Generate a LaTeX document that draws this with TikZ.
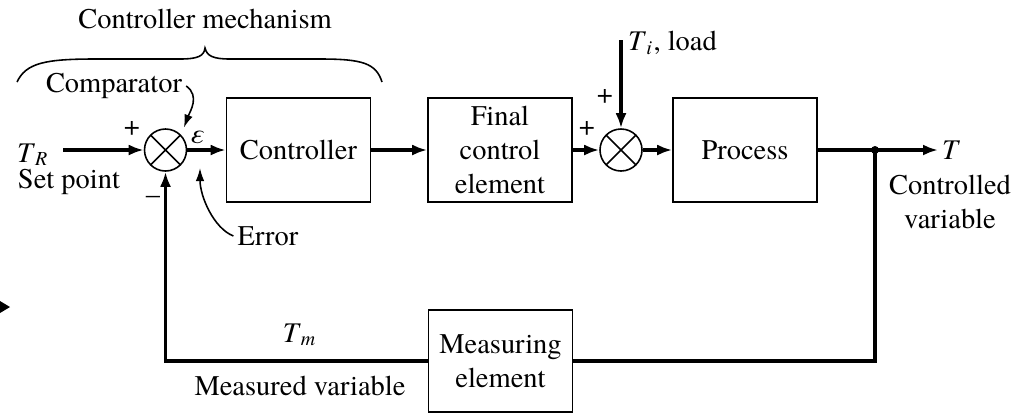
\documentclass[tikz,border=0pt]{standalone}
\usepackage{fontspec}
\setmainfont{texgyretermes}[Extension=.otf, UprightFont=*-regular, ItalicFont=*-italic, BoldFont=*-bold, BoldItalicFont=*-bolditalic]
\usetikzlibrary{arrows.meta, positioning, calc}
\newcommand{\symb}[2]{\textit{#1}\textsubscript{\textit{#2}}}

\begin{document}
\begin{tikzpicture}[
    font=\fontsize{8.1}{9.7}\selectfont,
    block/.style={draw, line width=0.45pt, minimum width=1.44cm, minimum height=1.04cm, align=center, inner sep=1pt},
    sumpt/.style={draw, circle, line width=0.45pt, minimum size=0.42cm, inner sep=0pt,
        path picture={\draw[line width=0.45pt] (path picture bounding box.north west) -- (path picture bounding box.south east)
            (path picture bounding box.north east) -- (path picture bounding box.south west);}},
    flow/.style={line width=1.1pt, -{Latex[length=1.5mm,width=1.1mm]}},
    sigline/.style={line width=1.1pt},
    pointer/.style={line width=0.45pt, -{Latex[length=1.3mm,width=0.85mm]}},
    sign/.style={inner sep=0pt},
    lbl/.style={align=center, inner sep=1pt}
]
\useasboundingbox (0,0) rectangle (10.34,-4.15);

% Blocks
\node[sumpt] (cmp) at (1.655,-1.50) {};
\node[block] (ctrl) at (2.985,-1.50) {Controller};
\node[block] (fce) at (5.00,-1.50) {Final\\control\\element};
\node[sumpt] (sum2) at (6.21,-1.50) {};
\node[block] (proc) at (7.45,-1.50) {Process};
\node[block, minimum height=1.02cm] (meas) at (5.005,-3.61) {Measuring\\element};

% Labels
\node[lbl] (ctrlmech) at (2.05,-0.19) {Controller mechanism};
\node[lbl] (cmplbl) at (1.14,-0.86) {Comparator};
\node[lbl, anchor=base] (tr) at (0.33,-1.62) {\symb{T}{R}};
\node[lbl] (setpt) at (0.69,-1.82) {Set point};
\node[sign] (plus1) at (1.32,-1.28) {+};
\node[sign] (minus1) at (1.53,-2.00) {–};
\node[lbl] (eps) at (1.97,-1.37) {\textit{ε}};
\node[lbl] (errlbl) at (2.68,-2.36) {Error};
\node[sign] (plus2) at (5.87,-1.28) {+};
\node[sign] (plus3) at (6.05,-0.96) {+};
\node[lbl, anchor=west] (load) at (6.24,-0.43) {\symb{T}{i}, load};
\node[lbl, anchor=west] (tout) at (9.38,-1.50) {\textit{T}};
\node[lbl] (ctrlvar) at (9.50,-2.02) {Controlled\\variable};
\node[lbl] (tm) at (3.00,-3.35) {\symb{T}{m}};
\node[lbl] (measvar) at (3.00,-3.86) {Measured variable};

% Free ends
\coordinate (trin) at (0.63,-1.50);
\coordinate (ldin) at (6.21,-0.40);
\coordinate (jct) at (8.75,-1.50);
\coordinate (errpt) at (2.00,-1.68);

% Forward path
\draw[flow] (trin) -- (cmp.west);
\draw[flow] (cmp.east) -- (ctrl.west);
\draw[flow] (ctrl.east) -- (fce.west);
\draw[flow] (fce.east) -- (sum2.west);
\draw[flow] (ldin) -- (sum2.north);
\draw[flow] (sum2.east) -- (proc.west);
\draw[flow] (proc.east) -- (tout.west);
\fill (jct) circle (0.04);

% Feedback path
\draw[sigline] (jct) |- (meas.east);
\draw[flow] (meas.west) -| (cmp.south);

% Pointers
\draw[pointer] (cmplbl.east) .. controls +(0.14,-0.10) and +(0.06,0.16) .. ([shift={(0.03,0.07)}]cmp.north east);
\draw[pointer] (errlbl.west) .. controls +(-0.20,0.08) and +(0,-0.28) .. (errpt);

% Brace
\draw[line width=0.45pt] (0.17,-0.82) .. controls (0.26,-0.63) and (0.45,-0.59) .. (0.95,-0.59)
    -- (1.80,-0.59) .. controls (1.98,-0.59) and (2.04,-0.56) .. (2.05,-0.48)
    .. controls (2.07,-0.56) and (2.13,-0.59) .. (2.30,-0.59)
    -- (3.20,-0.59) .. controls (3.62,-0.59) and (3.76,-0.63) .. (3.82,-0.82);

% Edge mark
\fill (0,-3.01) -- (0.10,-3.07) -- (0,-3.13) -- cycle;
\end{tikzpicture}
\end{document}
